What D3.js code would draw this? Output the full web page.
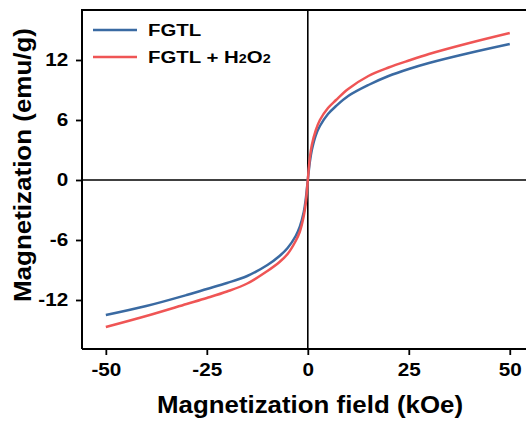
<!DOCTYPE html>
<html lang="en">
<head>
<meta charset="utf-8">
<title>Magnetization</title>
<script src="https://d3js.org/d3.v7.min.js"></script>
<style>
body { margin: 0; background: #fff; }
svg { display: block; font-family: "Liberation Sans", Arial, sans-serif; }
</style>
</head>
<body>
<script>
// field values (kOe)
var fields = [-50, -40, -30, -25, -20, -15, -10, -7, -5, -3, -2, -1, -0.5, 0,
              0.5, 1, 2, 3, 5, 7, 10, 15, 20, 25, 30, 40, 50];
// magnetization (emu/g)
var fgtl = [-13.5, -12.6, -11.5, -10.9, -10.3, -9.6, -8.5, -7.6, -6.8, -5.6, -4.7, -3.2, -1.9, 0,
            1.8, 3.0, 4.5, 5.4, 6.6, 7.4, 8.4, 9.5, 10.4, 11.1, 11.7, 12.7, 13.6];
var fgtlH2O2 = [-14.7, -13.6, -12.4, -11.8, -11.15, -10.35, -9.1, -8.2, -7.4, -6.1, -5.2, -3.6, -2.3, 0,
                2.2, 3.5, 5.0, 6.0, 7.2, 8.0, 9.1, 10.4, 11.25, 11.95, 12.6, 13.7, 14.7];
var xTicks = [-50, -25, 0, 25, 50];
var yTicks = [-12, -6, 0, 6, 12];

var series = [
  {name: "FGTL", values: fgtl, color: "#3a6aa2"},
  {name: "FGTL + H2O2", values: fgtlH2O2, color: "#ef5555"}
];

var width = 526, height = 421;
var svg = d3.select("body").append("svg")
    .attr("width", width)
    .attr("height", height);

var x = d3.scaleLinear().domain([-55.9, 56]).range([82, 534]);
var y = d3.scaleLinear().domain([-16.9, 17]).range([349, 10]);

// zero lines
svg.append("line")
    .attr("x1", x(-55.9)).attr("x2", width)
    .attr("y1", y(0)).attr("y2", y(0))
    .attr("stroke", "#000").attr("stroke-width", 1.6);
svg.append("line")
    .attr("x1", x(0)).attr("x2", x(0))
    .attr("y1", y(17)).attr("y2", y(-16.9))
    .attr("stroke", "#000").attr("stroke-width", 1.6);

// curves
var line = d3.line()
    .x(function(d) { return x(d[0]); })
    .y(function(d) { return y(d[1]); })
    .curve(d3.curveCatmullRom.alpha(0.5));

series.forEach(function(s) {
  svg.append("path")
      .datum(fields.map(function(f, i) { return [f, s.values[i]]; }))
      .attr("fill", "none")
      .attr("stroke", s.color)
      .attr("stroke-width", 2.5)
      .attr("d", line);
});

// axes (plain hyphen for negatives, like the original)
var fmt = function(d) { return String(d); };
var xAxis = svg.append("g")
    .attr("transform", "translate(0," + y(-16.9) + ")")
    .call(d3.axisBottom(x).tickValues(xTicks).tickFormat(fmt).tickSize(6).tickPadding(8));
var yAxis = svg.append("g")
    .attr("transform", "translate(" + x(-55.9) + ",0)")
    .call(d3.axisLeft(y).tickValues(yTicks).tickFormat(fmt).tickSize(6).tickPadding(6));

[xAxis, yAxis].forEach(function(g) {
  g.select(".domain").attr("stroke", "#000").attr("stroke-width", 2);
  g.selectAll(".tick line").attr("stroke", "#000").attr("stroke-width", 1.8);
  g.selectAll(".tick text")
      .attr("fill", "#000")
      .attr("font-size", 18)
      .attr("font-weight", "bold")
      .attr("font-family", "'Liberation Sans', Arial, sans-serif")
      .attr("transform", "scale(1.15,1)");
});
xAxis.select(".domain").attr("d", "M" + x(-55.9) + ",0H" + width);
yAxis.select(".domain").attr("d", "M0," + y(17) + "V" + y(-16.9));

// top frame
svg.append("line")
    .attr("x1", x(-55.9) - 1).attr("x2", width)
    .attr("y1", y(17)).attr("y2", y(17))
    .attr("stroke", "#000").attr("stroke-width", 2);

// axis titles
svg.append("text")
    .attr("x", 310).attr("y", 413)
    .attr("text-anchor", "middle")
    .attr("font-size", 24).attr("font-weight", "bold")
    .attr("textLength", 306).attr("lengthAdjust", "spacingAndGlyphs")
    .text("Magnetization field (kOe)");
svg.append("text")
    .attr("transform", "translate(31,165) rotate(-90)")
    .attr("text-anchor", "middle")
    .attr("font-size", 24).attr("font-weight", "bold")
    .attr("textLength", 274).attr("lengthAdjust", "spacingAndGlyphs")
    .text("Magnetization (emu/g)");

// legend
var legend = svg.append("g");
series.forEach(function(s, i) {
  var ly = 30 + i * 27;
  legend.append("line")
      .attr("x1", 93).attr("x2", 137)
      .attr("y1", ly).attr("y2", ly)
      .attr("stroke", s.color).attr("stroke-width", 2.5);
  var t = legend.append("text")
      .attr("transform", "translate(148," + (ly + 6) + ") scale(1.2,1)")
      .attr("font-size", 17).attr("font-weight", "bold");
  if (i === 0) {
    t.text(s.name);
  } else {
    t.append("tspan").text("FGTL + H");
    t.append("tspan").attr("font-size", 12).text("2");
    t.append("tspan").text("O");
    t.append("tspan").attr("font-size", 12).text("2");
  }
});
</script>
</body>
</html>
